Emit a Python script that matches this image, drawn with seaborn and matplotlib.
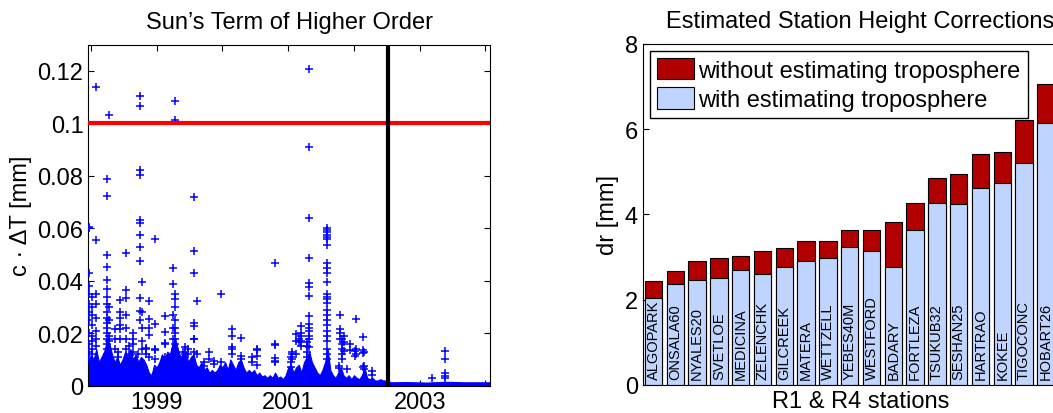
import numpy as np
import pandas as pd
import matplotlib.pyplot as plt
import seaborn as sns
from matplotlib.patches import Patch

sns.set_style('ticks')
plt.rcParams['font.family'] = ['Liberation Sans', 'DejaVu Sans']
plt.rcParams['text.color'] = 'black'
plt.rcParams['axes.labelcolor'] = 'black'

# left panel: sun's higher order term, c*dT [mm] per session epoch (decimal year)
sess_t = [1997.97, 1998.02, 1998.07, 1998.24, 1998.28, 1998.36, 1998.41, 1998.44,
          1998.53, 1998.58, 1998.64, 1998.71, 1998.75, 1998.78, 1998.84, 1998.88,
          1998.98, 1999.12, 1999.25, 1999.28, 1999.40, 1999.43, 1999.47, 1999.56,
          1999.62, 1999.72, 1999.79, 1999.87, 1999.98, 2000.14, 2000.28, 2000.45,
          2000.53, 2000.80, 2001.04, 2001.06, 2001.12, 2001.16, 2001.20, 2001.28,
          2001.32, 2001.59, 2001.77, 2001.79, 2001.82, 2001.85, 2001.90, 2001.94,
          2002.03, 2002.01, 2002.13, 2002.15, 2002.28, 2003.19, 2003.39]
sess_v = [
    [0.0605, 0.0600, 0.043, 0.038, 0.035, 0.031, 0.028, 0.025, 0.020, 0.016, 0.013, 0.010],
    [0.034, 0.030, 0.027, 0.023, 0.019, 0.017, 0.014, 0.012],
    [0.1138, 0.0554, 0.0349, 0.031, 0.026, 0.021, 0.018, 0.015],
    [0.0788, 0.0722, 0.0498, 0.0454, 0.0402, 0.037, 0.034, 0.031, 0.028, 0.026, 0.024,
     0.022, 0.020, 0.018, 0.016, 0.014, 0.012],
    [0.1033, 0.030, 0.025, 0.019, 0.017],
    [0.0215, 0.018, 0.014],
    [0.013, 0.011],
    [0.0326, 0.0281, 0.026, 0.023, 0.0216, 0.018],
    [0.0507, 0.0364, 0.0333, 0.027, 0.022, 0.018, 0.014],
    [0.015, 0.012],
    [0.020, 0.018, 0.016, 0.013],
    [0.012],
    [0.1103, 0.1065, 0.0824, 0.0802, 0.0631, 0.0619, 0.0575, 0.0529, 0.0475, 0.0335,
     0.0285, 0.025],
    [0.0395, 0.028, 0.022, 0.017, 0.014],
    [0.0142, 0.012, 0.014],
    [0.0322, 0.0254, 0.0219, 0.0195, 0.011],
    [0.0558, 0.0237, 0.0136, 0.014, 0.010],
    [0.0264, 0.0203, 0.0162, 0.0159, 0.011],
    [0.0447, 0.0386, 0.027, 0.022, 0.018],
    [0.1086, 0.1014, 0.0349, 0.033, 0.030, 0.025, 0.022, 0.020, 0.018, 0.016, 0.014],
    [0.0127],
    [0.0146, 0.012],
    [0.014, 0.012],
    [0.072, 0.0513, 0.0428, 0.024, 0.0228, 0.0178, 0.0177, 0.013],
    [0.0323, 0.0121],
    [0.009, 0.0076],
    [0.0129, 0.010],
    [0.0095, 0.0083],
    [0.0351, 0.009],
    [0.0216, 0.0188, 0.0147, 0.014, 0.012],
    [0.0183, 0.0114, 0.010],
    [0.011, 0.0089],
    [0.0140, 0.0137, 0.0114, 0.008],
    [0.0466, 0.0159, 0.0155, 0.0105, 0.0095, 0.009],
    [0.011, 0.009, 0.007],
    [0.013, 0.012, 0.010],
    [0.0197, 0.017, 0.012],
    [0.0178, 0.0166],
    [0.0228, 0.020, 0.019, 0.017, 0.015],
    [0.0166, 0.015, 0.013, 0.011],
    [0.1207, 0.0911, 0.064, 0.0488, 0.039, 0.0375, 0.0342, 0.0264, 0.0235, 0.022, 0.021,
     0.019, 0.018, 0.0147],
    [0.0602, 0.0595, 0.0587, 0.0575, 0.0567, 0.0558, 0.0536, 0.0466, 0.0450, 0.0428,
     0.0395, 0.035, 0.034, 0.033, 0.0314, 0.029, 0.027, 0.025, 0.023, 0.021, 0.019,
     0.017, 0.014, 0.012, 0.010],
    [0.0076, 0.0066],
    [0.0269, 0.0216, 0.020, 0.018],
    [0.0178, 0.016, 0.014, 0.012, 0.010],
    [0.019, 0.0165, 0.0133],
    [0.0063],
    [0.016, 0.0137],
    [0.0256, 0.014, 0.012],
    [0.0133, 0.0114],
    [0.0186, 0.0138, 0.0125, 0.007],
    [0.013, 0.0076, 0.0063],
    [0.0057, 0.0042],
    [0.0028],
    [0.0133, 0.0101, 0.005, 0.0037, 0.003],
]
# upper edge of the dense cloud of small values
band_t = [1997.96, 1998.00, 1998.04, 1998.08, 1998.12, 1998.16, 1998.20, 1998.24, 1998.28,
          1998.32, 1998.36, 1998.40, 1998.44, 1998.48, 1998.52, 1998.56, 1998.60, 1998.64,
          1998.68, 1998.72, 1998.76, 1998.80, 1998.84, 1998.88, 1998.92, 1998.96, 1999.00,
          1999.04, 1999.08, 1999.12, 1999.16, 1999.20, 1999.24, 1999.28, 1999.32, 1999.36,
          1999.40, 1999.44, 1999.48, 1999.52, 1999.56, 1999.60, 1999.64, 1999.68, 1999.72,
          1999.76, 1999.80, 1999.84, 1999.88, 1999.92, 1999.96, 2000.00, 2000.04, 2000.08,
          2000.12, 2000.16, 2000.20, 2000.24, 2000.28, 2000.32, 2000.36, 2000.40, 2000.44,
          2000.48, 2000.52, 2000.56, 2000.60, 2000.64, 2000.68, 2000.72, 2000.76, 2000.80,
          2000.84, 2000.88, 2000.92, 2000.96, 2001.00, 2001.04, 2001.08, 2001.12, 2001.16,
          2001.20, 2001.24, 2001.28, 2001.32, 2001.36, 2001.40, 2001.44, 2001.48, 2001.52,
          2001.56, 2001.60, 2001.64, 2001.68, 2001.72, 2001.76, 2001.80, 2001.84, 2001.88,
          2001.92, 2001.96, 2002.00, 2002.04, 2002.08, 2002.12, 2002.16, 2002.20, 2002.24,
          2002.28, 2002.32, 2002.36, 2002.40, 2002.44, 2002.48, 2002.52, 2002.55, 2002.80,
          2003.10, 2003.40, 2003.70, 2004.07]
band_v = [0.0090, 0.0120, 0.0100, 0.0140, 0.0090, 0.0110, 0.0130, 0.0170, 0.0160,
          0.0120, 0.0090, 0.0110, 0.0080, 0.0100, 0.0130, 0.0110, 0.0140, 0.0100,
          0.0120, 0.0090, 0.0110, 0.0100, 0.0080, 0.0050, 0.0040, 0.0080, 0.0070,
          0.0090, 0.0120, 0.0100, 0.0130, 0.0120, 0.0160, 0.0180, 0.0140, 0.0110,
          0.0120, 0.0130, 0.0090, 0.0110, 0.0120, 0.0080, 0.0070, 0.0090, 0.0060,
          0.0070, 0.0050, 0.0060, 0.0050, 0.0060, 0.0080, 0.0070, 0.0090, 0.0060,
          0.0100, 0.0080, 0.0060, 0.0090, 0.0100, 0.0070, 0.0050, 0.0060, 0.0050,
          0.0060, 0.0040, 0.0050, 0.0035, 0.0040, 0.0030, 0.0040, 0.0030, 0.0050,
          0.0030, 0.0035, 0.0025, 0.0040, 0.0070, 0.0080, 0.0050, 0.0070, 0.0080,
          0.0050, 0.0090, 0.0110, 0.0130, 0.0090, 0.0070, 0.0050, 0.0040, 0.0060,
          0.0090, 0.0140, 0.0060, 0.0040, 0.0030, 0.0050, 0.0070, 0.0040, 0.0030,
          0.0040, 0.0025, 0.0040, 0.0030, 0.0025, 0.0040, 0.0070, 0.0030, 0.0025,
          0.0030, 0.0020, 0.0020, 0.0025, 0.0020, 0.0020, 0.0020, 0.0013, 0.0014,
          0.0012, 0.0015, 0.0013, 0.0013]
limit_mm = 0.1
cutoff_year = 2002.52

# right panel: station height corrections dr [mm]
stations = ['ALGOPARK', 'ONSALA60', 'NYALES20', 'SVETLOE', 'MEDICINA', 'ZELENCHK',
            'GILCREEK', 'MATERA', 'WETTZELL', 'YEBES40M', 'WESTFORD', 'BADARY',
            'FORTLEZA', 'TSUKUB32', 'SESHAN25', 'HARTRAO', 'KOKEE', 'TIGOCONC', 'HOBART26']
dr_without = [2.43, 2.68, 2.90, 2.97, 3.03, 3.13, 3.20, 3.37, 3.38, 3.64, 3.64, 3.82,
              4.27, 4.86, 4.94, 5.42, 5.46, 6.22, 7.06]
dr_with = [2.03, 2.36, 2.46, 2.50, 2.69, 2.59, 2.76, 2.91, 2.97, 3.24, 3.15, 2.77,
           3.64, 4.26, 4.24, 4.62, 4.74, 5.21, 6.15]

red = '#b00000'
lightblue = '#bfd4ff'
fs = 17

pts = pd.DataFrame({'t': [t for t, vs in zip(sess_t, sess_v) for _ in vs],
                    'v': [v for vs in sess_v for v in vs]})

fig = plt.figure(figsize=(10.53, 4.14), dpi=100)
ax1 = fig.add_axes([0.0839, 0.0659, 0.3815, 0.8237])
ax2 = fig.add_axes([0.6103, 0.0684, 0.414, 0.823])

# ---- left
ax1.fill_between(band_t, 0, band_v, color='#0000ff', lw=0.8, zorder=2)
sns.scatterplot(data=pts, x='t', y='v', marker='+', color='#0000ff', s=32,
                linewidth=1.1, ax=ax1, zorder=3)
ax1.axhline(limit_mm, color='#ff0000', lw=3, zorder=4)
ax1.axvline(cutoff_year, color='black', lw=3, zorder=5)
ax1.set_xlim(1997.96, 2004.07)
ax1.set_ylim(0, 0.13)
ax1.set_xticks([1998, 1999, 2000, 2001, 2002, 2003, 2004])
ax1.set_xticklabels(['', '1999', '', '2001', '', '2003', ''])
ax1.set_yticks([0, 0.02, 0.04, 0.06, 0.08, 0.1, 0.12])
ax1.set_yticklabels(['0', '0.02', '0.04', '0.06', '0.08', '0.1', '0.12'])
ax1.set_xlabel('')
ax1.set_ylabel('c · ΔT [mm]', fontsize=fs, color='black')
ax1.set_title('Sun’s Term of Higher Order', fontsize=fs, pad=12, color='black')

# ---- right
sns.barplot(x=stations, y=dr_without, color=red, saturation=1, width=0.8,
            edgecolor='black', linewidth=0.8, ax=ax2)
sns.barplot(x=stations, y=dr_with, color=lightblue, saturation=1, width=0.8,
            edgecolor='black', linewidth=0.8, ax=ax2)
for i, name in enumerate(stations):
    ax2.text(i, 0.13, name, rotation=90, ha='center', va='bottom', fontsize=10.5,
             color='black')
ax2.set_xlim(-0.5, 19.5)
ax2.set_ylim(0, 8)
ax2.set_xticks([])
ax2.set_yticks([0, 2, 4, 6, 8])
ax2.set_xlabel('R1 & R4 stations', fontsize=fs, labelpad=4, color='black')
ax2.set_ylabel('dr [mm]', fontsize=fs, color='black')
ax2.set_title('Estimated Station Height Corrections', fontsize=fs, pad=12, color='black')
handles = [Patch(facecolor=red, edgecolor='black', lw=0.8),
           Patch(facecolor=lightblue, edgecolor='black', lw=0.8)]
leg = ax2.legend(handles, ['without estimating troposphere', 'with estimating troposphere'],
                 loc='upper left', bbox_to_anchor=(0.017, 0.98), borderaxespad=0,
                 fontsize=fs, fancybox=False, framealpha=1, edgecolor='black',
                 handlelength=1.55, handleheight=1.0, handletextpad=0.2,
                 labelspacing=0.25, borderpad=0.3, labelcolor='black')
leg.get_frame().set_linewidth(1.0)

for ax in (ax1, ax2):
    ax.tick_params(direction='in', top=True, right=True, length=4, width=0.8,
                   labelsize=17, colors='black')
    for sp in ax.spines.values():
        sp.set_linewidth(0.8)
        sp.set_color('black')
ax2.tick_params(axis='x', top=False, bottom=False)

fig.savefig('out.png', dpi=100)
